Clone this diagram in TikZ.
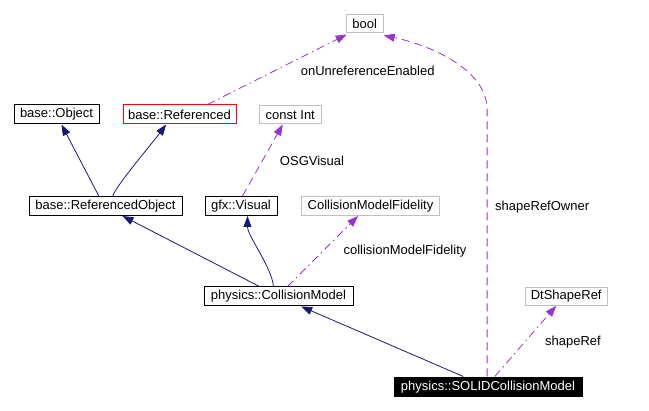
\documentclass[tikz,border=0pt]{standalone}
\usepackage{fontspec}
\setmainfont{Liberation Sans}
\usetikzlibrary{arrows.meta}
\definecolor{edgeblue}{HTML}{191970}
\definecolor{edgepurple}{HTML}{9A32CD}
\definecolor{boxgray}{HTML}{BFBFBF}
\begin{document}
\begin{tikzpicture}[x=1pt,y=-1pt,
  every node/.style={font=\fontsize{13}{15}\selectfont, inner sep=0pt},
  cls/.style={draw=black, line width=1pt, minimum height=19pt},
  ext/.style={draw=boxgray, line width=1pt, minimum height=18pt},
  inh/.style={draw=edgeblue, line width=0.8pt, -{Triangle[length=11pt,width=8pt]}},
  use/.style={draw=edgepurple, line width=0.8pt, dash pattern=on 8pt off 5pt, -{Triangle[length=11pt,width=8pt]}},
  usedot/.style={draw=edgepurple, line width=0.8pt, dash pattern=on 8pt off 4pt on 1.5pt off 4pt, -{Triangle[length=11pt,width=8pt]}},
  lbl/.style={}
]
\useasboundingbox (0,0) rectangle (649,411);

\node[ext, minimum width=37pt] (bool) at (364.7,24) {bool};
\node[cls, minimum width=85pt] (obj) at (56.5,114.5) {base::Object};
\node[cls, draw=red, minimum width=113pt] (ref) at (179.5,114.5) {base::Referenced};
\node[ext, minimum width=62pt] (cint) at (290.3,115) {const Int};
\node[cls, minimum width=153pt] (ro) at (105.5,206) {base::ReferencedObject};
\node[cls, minimum width=72pt] (vis) at (241,206) {gfx::Visual};
\node[ext, minimum width=138pt, minimum height=19pt] (cmf) at (370.5,206) {CollisionModelFidelity};
\node[cls, minimum width=149pt] (cm) at (278.5,296.5) {physics::CollisionModel};
\node[ext, minimum width=82pt] (dt) at (566.2,296.3) {DtShapeRef};
\node[fill=black, text=white, minimum width=189pt, minimum height=20pt] (solid) at (488,386.7) {physics::SOLIDCollisionModel};

% inheritance
\draw[inh] ([xshift=70pt]solid.north west) -- ([xshift=97.7pt]cm.south west);
\draw[inh] ([xshift=56pt]cm.north west) -- ([xshift=94pt]ro.south west);
\draw[inh] ([xshift=70pt]cm.north west) .. controls +(-2,-20) and +(0,20) .. ([xshift=43pt]vis.south west);
\draw[inh] ([xshift=70.3pt]ro.north west) -- ([xshift=48pt]obj.south west);
\draw[inh] ([xshift=84.3pt]ro.north west) .. controls +(3,-10) and +(-15,20) .. ([xshift=43.7pt]ref.south west);

% usage
\draw[usedot] ([xshift=84pt]cm.north west) -- ([xshift=57pt]cmf.south west);
\draw[use] ([xshift=38pt]vis.north west) -- ([xshift=24pt]cint.south west);
\draw[usedot] ([xshift=85pt]ref.north west) -- ([xshift=1pt,yshift=-1pt]bool.south west);
\draw[use] ([xshift=93.8pt]solid.north west) -- ++(0,-267) .. controls +(0,-40) and (430,45) .. ([yshift=-2pt]bool.south east);
\draw[usedot] ([xshift=101.5pt]solid.north west) -- ([xshift=31.5pt]dt.south west);

% labels
\node[lbl] (l1) at (367.7,70.7) {onUnreferenceEnabled};
\node[lbl] (l2) at (312,160.7) {OSGVisual};
\node[lbl] (l3) at (405,251.3) {collisionModelFidelity};
\node[lbl, anchor=west] (l4) at (495,206.7) {shapeRefOwner};
\node[lbl] (l5) at (573,342.3) {shapeRef};
\end{tikzpicture}
\end{document}
